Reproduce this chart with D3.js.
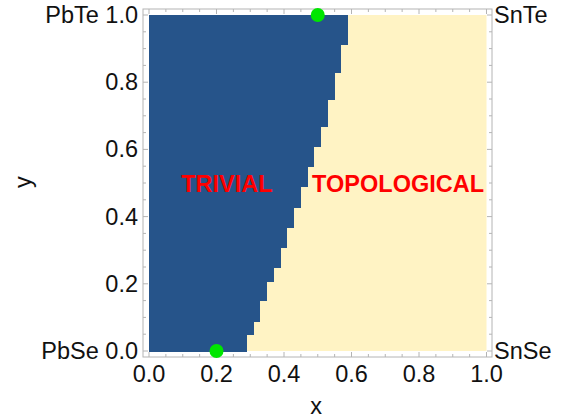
<!DOCTYPE html>
<html><head><meta charset="utf-8">
<script src="https://cdn.jsdelivr.net/npm/d3@7"></script>
<style>body{margin:0;background:#fff}svg{display:block}text{font-family:"Liberation Sans",Arial,sans-serif}</style>
</head><body><svg id="c" width="566" height="419"></svg>
<script>
// Phase boundary: for each y band (from previous top to bandTop), the trivial region spans x in [0, boundaryX]
const bandTop   = [0.048, 0.089, 0.149, 0.208, 0.249, 0.309, 0.368, 0.428, 0.489, 0.549, 0.608, 0.668, 0.749, 0.829, 0.911, 1.0];
const boundaryX = [0.29, 0.31, 0.33, 0.35, 0.37, 0.39, 0.41, 0.43, 0.45, 0.47, 0.49, 0.51, 0.53, 0.55, 0.57, 0.59];
const tickValues = [0, 0.2, 0.4, 0.6, 0.8, 1.0];
const yLeftNames = {0: "PbSe ", 1: "PbTe "};
const cornerRight = [{y: 1, label: "SnTe"}, {y: 0, label: "SnSe"}];
const points = [{x: 0.5, y: 1.0}, {x: 0.2, y: 0.0}];
const regionLabels = [{x: 0.231, y: 0.5, label: "TRIVIAL"}, {x: 0.738, y: 0.5, label: "TOPOLOGICAL"}];

const svg = d3.select("#c");
const x = d3.scaleLinear().domain([0, 1]).range([149, 486.5]);
const y = d3.scaleLinear().domain([0, 1]).range([351, 15]);
const frame = {l: 143, r: 492, t: 9, b: 357};
const blue = "#26548a", cream = "#fff3c4";
const fs = 23.5;

// background (topological)
svg.append("rect").attr("x", x(0)).attr("y", y(1)).attr("width", x(1) - x(0)).attr("height", y(0) - y(1)).attr("fill", cream);
// trivial bands
const bands = bandTop.map((t, i) => ({y0: i === 0 ? 0 : bandTop[i - 1], y1: t, bx: boundaryX[i]}));
svg.append("g").selectAll("rect").data(bands).join("rect")
  .attr("x", x(0)).attr("y", d => y(d.y1)).attr("width", d => x(d.bx) - x(0))
  .attr("height", d => y(d.y0) - y(d.y1) + 0.5).attr("fill", blue).attr("shape-rendering", "crispEdges");

// frame
svg.append("rect").attr("x", frame.l).attr("y", frame.t).attr("width", frame.r - frame.l).attr("height", frame.b - frame.t)
  .attr("fill", "none").attr("stroke", "#b4b4b4").attr("stroke-width", 1);

// ticks
const minor = d3.range(0, 1.0001, 0.05);
const tg = svg.append("g").attr("stroke", "#b4b4b4").attr("stroke-width", 1);
minor.forEach(v => {
  const major = tickValues.some(t => Math.abs(t - v) < 1e-6);
  const len = major ? 5 : 3;
  tg.append("line").attr("x1", x(v)).attr("x2", x(v)).attr("y1", frame.b).attr("y2", frame.b - len);
  tg.append("line").attr("x1", x(v)).attr("x2", x(v)).attr("y1", frame.t).attr("y2", frame.t + len);
  tg.append("line").attr("y1", y(v)).attr("y2", y(v)).attr("x1", frame.l).attr("x2", frame.l + len);
  tg.append("line").attr("y1", y(v)).attr("y2", y(v)).attr("x1", frame.r).attr("x2", frame.r - len);
});

// tick labels
svg.append("g").selectAll("text").data(tickValues).join("text")
  .attr("x", d => x(d)).attr("y", 382).attr("text-anchor", "middle").attr("font-size", fs).attr("fill", "#111")
  .text(d => d.toFixed(1));
svg.append("g").selectAll("text").data(tickValues).join("text")
  .attr("x", 138).attr("y", d => y(d) + 8).attr("text-anchor", "end").attr("font-size", fs).attr("fill", "#111")
  .text(d => (yLeftNames[d] || "") + d.toFixed(1));
svg.append("g").selectAll("text").data(cornerRight).join("text")
  .attr("x", 494).attr("y", d => y(d.y) + 8).attr("font-size", fs).attr("fill", "#111").text(d => d.label);

// axis labels
svg.append("text").attr("x", 316).attr("y", 414).attr("text-anchor", "middle").attr("font-size", fs).attr("fill", "#111").text("x");
svg.append("text").attr("transform", "translate(31,182) rotate(-90)").attr("text-anchor", "middle").attr("font-size", fs).attr("fill", "#111").text("y");

// region labels
svg.append("g").selectAll("text").data(regionLabels).join("text")
  .attr("x", d => x(d.x)).attr("y", d => y(d.y) + 9).attr("text-anchor", "middle")
  .attr("font-size", 23.5).attr("font-weight", "bold").attr("fill", "#ff0000").text(d => d.label);

// points
svg.append("g").selectAll("circle").data(points).join("circle")
  .attr("cx", d => x(d.x)).attr("cy", d => y(d.y)).attr("r", 7).attr("fill", "#00e600");
</script></body></html>
